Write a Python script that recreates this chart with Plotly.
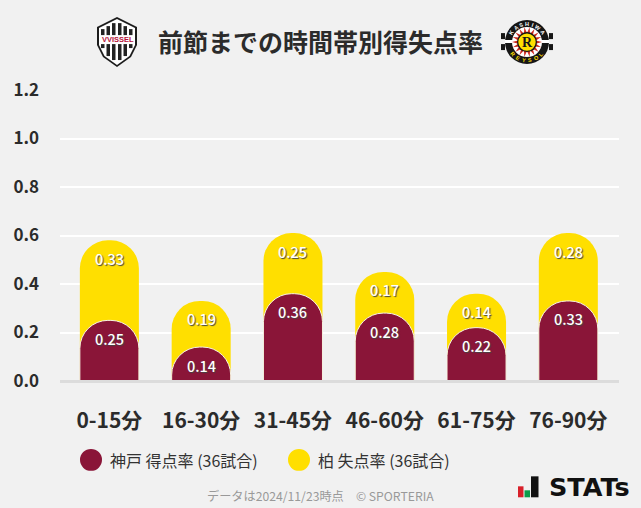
import math
import plotly.graph_objects as go

categories = ["0-15分", "16-30分", "31-45分", "46-60分", "61-75分", "76-90分"]
kobe_scored = [0.25, 0.14, 0.36, 0.28, 0.22, 0.33]
kashiwa_conceded = [0.33, 0.19, 0.25, 0.17, 0.14, 0.28]
y_ticks = [0.0, 0.2, 0.4, 0.6, 0.8, 1.0, 1.2]
title = "前節までの時間帯別得失点率"
legend_names = ["神戸 得点率 (36試合)", "柏 失点率 (36試合)"]
footer = "データは2024/11/23時点　© SPORTERIA"

RED = "#8a1538"
YEL = "#ffdf00"
BG = "#f1f1f1"
FONT = "Noto Sans CJK JP"
W, H = 641, 508
L, R, T, B = 60, 619, 90, 381.5

X = lambda p: (p - L) / (R - L)
Y = lambda p: (B - p) / (B - T)

totals = [a + b for a, b in zip(kobe_scored, kashiwa_conceded)]
xs = list(range(len(categories)))

fig = go.Figure()
fig.add_bar(x=xs, y=totals, width=0.643, marker=dict(color=YEL, line=dict(width=0)),
            name=legend_names[1], hoverinfo="skip")
fig.add_bar(x=xs, y=kobe_scored, width=0.643, yaxis="y2",
            marker=dict(color=RED, line=dict(color="#f6f2e4", width=1)),
            name=legend_names[0], hoverinfo="skip")

shapes, ann = [], []

def circle(cx, cy, r, color, ry=None):
    ry = ry or r
    shapes.append(dict(type="circle", xref="paper", yref="paper", x0=X(cx - r), x1=X(cx + r), y0=Y(cy + ry), y1=Y(cy - ry),
                       fillcolor=color, line=dict(width=0), layer="above"))

def rect(x0, y0, x1, y1, color):
    shapes.append(dict(type="rect", xref="paper", yref="paper", x0=X(x0), x1=X(x1), y0=Y(y1), y1=Y(y0),
                       fillcolor=color, line=dict(width=0), layer="above"))

def poly(points, color, line=None, lw=0):
    path = "M" + " L".join(f"{X(a):.5f},{Y(b):.5f}" for a, b in points) + " Z"
    shapes.append(dict(type="path", xref="paper", yref="paper", path=path, fillcolor=color,
                       line=dict(width=lw, color=line or color), layer="above"))

def text(px, py, s, size, color, anchor="left", weight="normal", family=FONT, shadow=None, angle=0):
    f = dict(size=size, color=color, family=family, weight=weight)
    if shadow:
        f["shadow"] = shadow
    ann.append(dict(xref="paper", yref="paper", x=X(px), y=Y(py), text=s, showarrow=False, xanchor=anchor, yanchor="middle",
                    font=f, textangle=angle, borderpad=0, borderwidth=0))

# baseline
rect(L, B - 1, R, B + 2, "#dcdcdc")

# value labels
for i in xs:
    for top, v in ((totals[i], kashiwa_conceded[i]), (kobe_scored[i], kobe_scored[i])):
        ann.append(dict(xref="x", yref="y", x=i, y=top, yshift=-18, text=f"{v:.2f}", showarrow=False,
                        font=dict(size=14.5, color="white", family=FONT, weight=500, shadow="1px 1px 1px #444")))

# title
text(320.5, 41, title, 25, "#2b2b2b", "center", "bold")

# legend
circle(91, 460.5, 11, RED)
text(110, 460.5, legend_names[0], 16, "#333333")
circle(299, 460.5, 11, YEL)
text(318, 460.5, legend_names[1], 16, "#333333")

# footer
text(320.5, 497, footer, 12.2, "#999999", "center")

# Vissel shield
shield = [(97, 27), (117, 17), (137, 27), (137, 45), (131, 57), (117, 67), (103, 57), (97, 45)]
poly(shield, "#1c1c1c")
inner = [(99, 28), (117, 19), (135, 28), (135, 45), (129.5, 56), (117, 65), (104.5, 56), (99, 45)]
poly(inner, "#ffffff")
for sx, top, bot in ((101, 29, 48), (106.5, 26, 56), (112, 23, 60), (118, 23, 60), (123.5, 26, 56), (129, 29, 48)):
    rect(sx, top, sx + 3.5, 35, "#222222")
    rect(sx, 44, sx + 3.5, bot, "#222222")
text(117.5, 39.5, "<b>VVISSEL</b>", 7.5, "#b5123a", "center", family="Liberation Sans")

# Kashiwa emblem
cx, cy = 527, 42
for dx in (-26, 22):
    rect(cx + dx, cy - 9, cx + dx + 4, cy - 3, "#161616")
    rect(cx + dx, cy + 2, cx + dx + 4, cy + 8, "#161616")
circle(cx, cy, 22, "#161616")
rect(cx - 22, cy - 2, cx + 22, cy + 1, "#ffffff")
circle(cx, cy, 15, "#ffffff")
for k in range(18):
    a = 2 * math.pi * k / 18
    b = a + math.pi / 18
    c = a - math.pi / 18
    poly([(cx + 15 * math.cos(a), cy + 15 * math.sin(a)), (cx + 9 * math.cos(b), cy + 9 * math.sin(b)),
          (cx + 9 * math.cos(c), cy + 9 * math.sin(c))], "#cf2a1e")
circle(cx, cy, 10, "#161616")
circle(cx, cy, 8.7, YEL)
text(cx, cy, "R", 14, "#161616", "center", "bold", "Liberation Serif")
for word, start, step, r, col in (("KASHIWA", -90 - 57, 19, 18.5, "#ffffff"), ("REYSOL", 90 + 50, -20, 18.5, YEL)):
    for j, ch in enumerate(word):
        deg = start + j * step
        rad = math.radians(deg)
        rot = deg + 90 if word == "KASHIWA" else deg - 90
        text(cx + r * math.cos(rad), cy + r * math.sin(rad), ch, 5.5, col, "center", "bold", "Liberation Sans", angle=rot)

# STATs logo
rect(518, 487, 523.5, 498, "#d8202a")
rect(524.5, 491, 530, 498, "#0c9c4a")
rect(531, 477, 538.5, 498, "#111111")
text(549, 488, "STATs", 25.5, "#111111", "left", "bold", "DejaVu Sans")

axis_font = dict(color="#2b2b2b", family=FONT, weight="bold")
fig.update_layout(
    width=W, height=H, autosize=False,
    margin=dict(l=L, r=W - R, t=T, b=H - B, pad=0),
    paper_bgcolor=BG, plot_bgcolor=BG,
    barmode="overlay", barcornerradius=28, showlegend=False,
    font=dict(family=FONT),
    shapes=shapes, annotations=ann,
    xaxis=dict(range=[-0.538, 5.552], tickmode="array", tickvals=xs, ticktext=categories, showgrid=False, zeroline=False,
               ticklen=0, ticklabelstandoff=25, tickfont=dict(size=21, **axis_font)),
    yaxis=dict(range=[0, 1.2], tickmode="array", tickvals=y_ticks, ticktext=[f"{v:.1f}" for v in y_ticks],
               showgrid=True, gridcolor="#ffffff", gridwidth=2, zeroline=False, ticklen=0, ticklabelstandoff=20,
               tickfont=dict(size=17, **axis_font)),
    yaxis2=dict(range=[0, 1.2], overlaying="y", visible=False),
)

fig.write_html("out.html", config={"displayModeBar": False},
               post_script="document.body.style.margin='0';document.documentElement.style.overflow='hidden';")
